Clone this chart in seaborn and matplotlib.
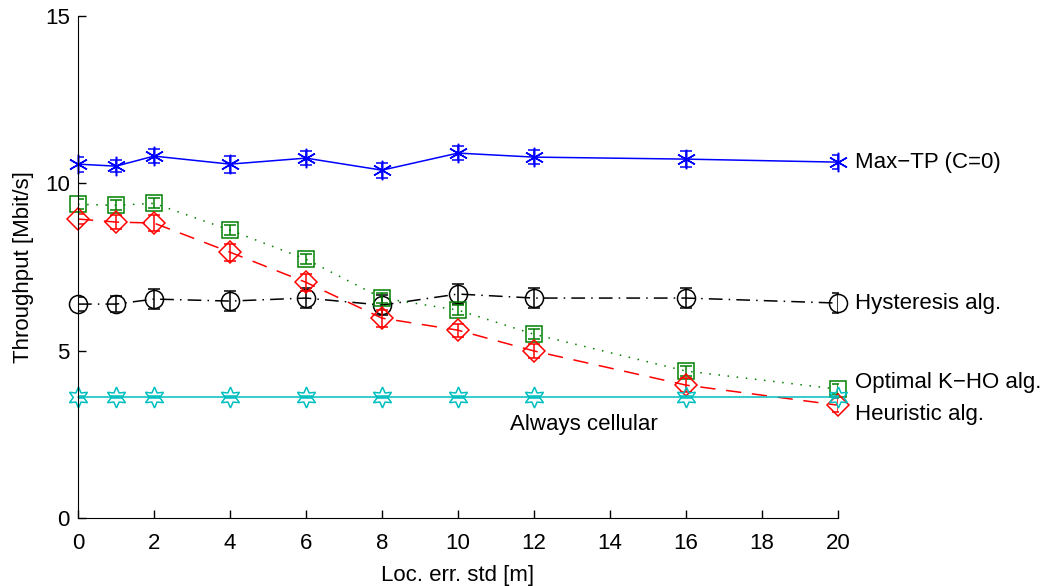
import numpy as np
import pandas as pd
import matplotlib
matplotlib.use("Agg")
import matplotlib.pyplot as plt
import seaborn as sns

sns.set_style("ticks")
plt.rcParams["font.family"] = ["Liberation Sans", "DejaVu Sans"]
plt.rcParams["text.color"] = "black"
plt.rcParams["axes.labelcolor"] = "black"

# data
loc_err = [0, 1, 2, 4, 6, 8, 10, 12, 16, 20]

max_tp = [10.57, 10.51, 10.81, 10.57, 10.75, 10.39, 10.90, 10.78, 10.72, 10.63]
max_tp_err = [0.22, 0.18, 0.22, 0.25, 0.22, 0.22, 0.2, 0.2, 0.25, 0.22]

hyst = [6.39, 6.39, 6.54, 6.48, 6.57, 6.36, 6.69, 6.57, 6.57, 6.42]
hyst_err = [0.2, 0.25, 0.3, 0.3, 0.3, 0.3, 0.3, 0.3, 0.3, 0.3]

optimal = [9.37, 9.34, 9.40, 8.60, 7.73, 6.57, 6.21, 5.49, 4.39, 3.85]
optimal_err = [0.15, 0.15, 0.15, 0.15, 0.15, 0.15, 0.15, 0.15, 0.15, 0.15]

heuristic = [8.93, 8.84, 8.81, 7.94, 7.04, 5.97, 5.61, 4.99, 3.97, 3.37]
heuristic_err = [0.15, 0.2, 0.25, 0.25, 0.25, 0.25, 0.2, 0.2, 0.2, 0.2]

cellular = [3.61, 3.61, 3.61, 3.61, 3.61, 3.61, 3.61, 3.61, 3.61, 3.61]
cellular_err = [0.04, 0.04, 0.04, 0.04, 0.04, 0.04, 0.04, 0.04, 0.04, 0.04]

labels = ["Max\u2212TP (C=0)", "Hysteresis alg.", "Optimal K\u2212HO alg.",
          "Heuristic alg."]
label_y = [10.63, 6.42, 4.05, 3.1]

fig = plt.figure(figsize=(10.48, 5.86), dpi=100)
ax = fig.add_axes([0.0744, 0.116, 0.7252, 0.857])

series = [
    (max_tp, max_tp_err, "#0000FF", "-", (6, 2, 0), 14),
    (hyst, hyst_err, "black", (0, (9, 4, 1, 4)), "o", 13),
    (optimal, optimal_err, "#008000", (0, (1, 5)), "s", 11),
    (heuristic, heuristic_err, "#FF0000", (0, (10, 7)), "D", 11),
    (cellular, cellular_err, "#00BFBF", "-", (6, 1, 0), 15),
]

for y, err, col, ls, mk, ms in series:
    df = pd.DataFrame({"x": loc_err, "y": y})
    sns.lineplot(data=df, x="x", y="y", ax=ax, color=col, linestyle=ls,
                 linewidth=1.1, marker=mk, markersize=ms,
                 markerfacecolor="none", markeredgecolor=col,
                 markeredgewidth=1.1, clip_on=False)
    ax.errorbar(loc_err, y, yerr=err, fmt="none", ecolor=col,
                elinewidth=1.1, capsize=4.5, capthick=1.1)

for lab, yy in zip(labels, label_y):
    ax.text(20.45, yy, lab, fontsize=16, va="center", ha="left",
            color="black", clip_on=False)
ax.text(13.3, 2.8, "Always cellular", fontsize=16, va="center", ha="center",
        color="black")

ax.set_xlim(0, 20)
ax.set_ylim(0, 15)
ax.set_xticks([0, 2, 4, 6, 8, 10, 12, 14, 16, 18, 20])
ax.set_yticks([0, 5, 10, 15])
ax.tick_params(direction="in", length=6, labelsize=16, width=1,
               colors="black")
ax.tick_params(axis="y", pad=6)
ax.tick_params(axis="x", pad=11)
ax.set_xlabel("Loc. err. std [m]", fontsize=16, labelpad=8, color="black")
ax.set_ylabel("Throughput [Mbit/s]", fontsize=16, labelpad=8, color="black")
for s in ax.spines.values():
    s.set_color("black")
sns.despine(ax=ax)

plt.savefig("out.png", dpi=100)
